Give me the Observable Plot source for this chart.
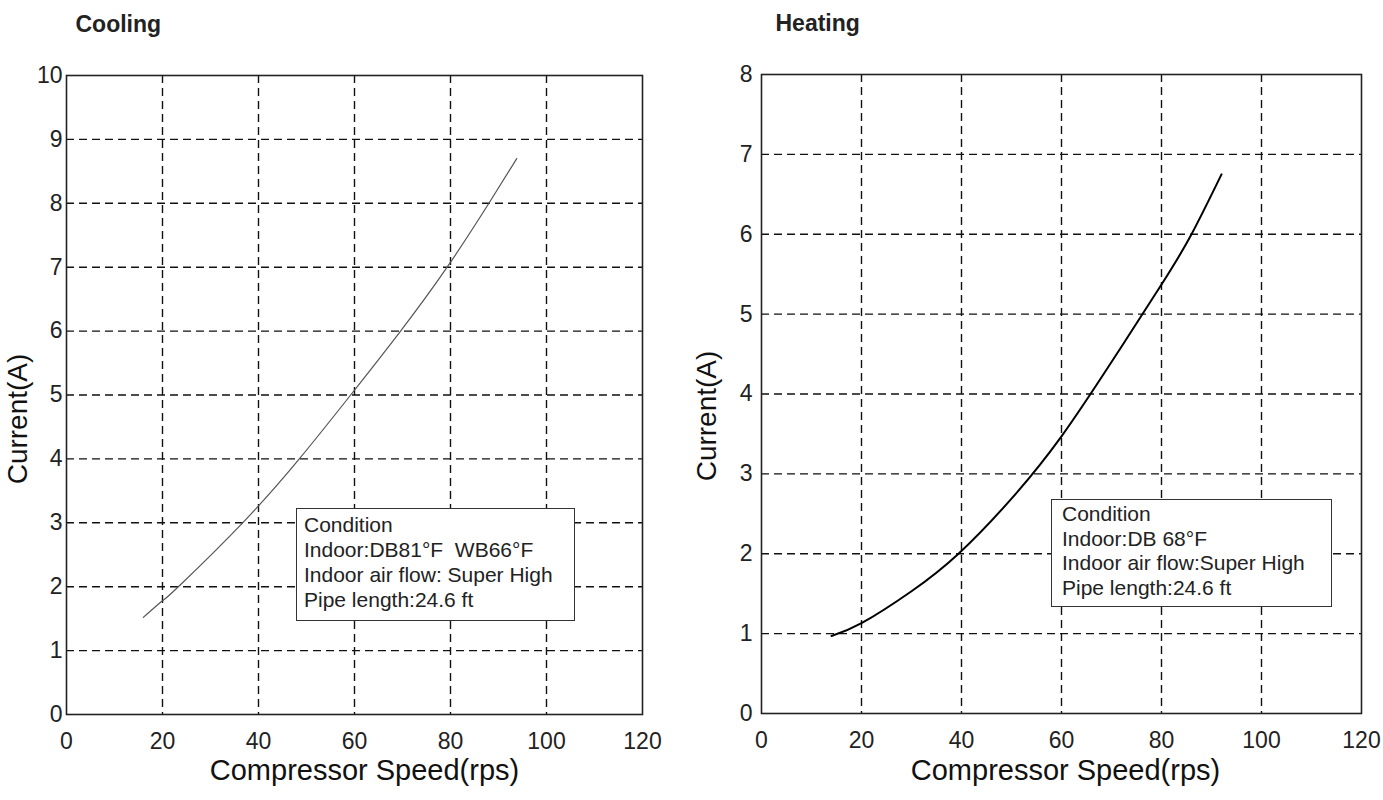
<!DOCTYPE html>
<html>
<head>
<meta charset="utf-8">
<script src="https://cdn.jsdelivr.net/npm/d3@7"></script>
<script src="https://cdn.jsdelivr.net/npm/@observablehq/plot@0.6"></script>
<style>
  html, body { margin: 0; padding: 0; background: #fff; }
  #wrap { position: relative; width: 1383px; height: 800px; overflow: hidden; font-family: "Liberation Sans", Arial, sans-serif; }
  .panel { position: absolute; top: 0; }
  .legend { position: absolute; box-sizing: border-box; border: 1.5px solid #333; background: #fff; font-size: 21px; color: #222; white-space: pre; }
</style>
</head>
<body>
<div id="wrap"></div>
<script>
// ---- data ----
const xTicks = [0, 20, 40, 60, 80, 100, 120];
const xGrid = [20, 40, 60, 80, 100];
const coolingYTicks = [0, 1, 2, 3, 4, 5, 6, 7, 8, 9, 10];
const coolingYGrid = [1, 2, 3, 4, 5, 6, 7, 8, 9];
const heatingYTicks = [0, 1, 2, 3, 4, 5, 6, 7, 8];
const heatingYGrid = [1, 2, 3, 4, 5, 6, 7];

const coolingSpeed   = [16, 20, 23.3, 36.7, 48.5, 59.2, 69.6, 79.3, 88, 93.8];
const coolingCurrent = [1.52, 1.78, 2.0, 3.0, 4.0, 5.0, 6.0, 7.0, 8.0, 8.7];

const heatingSpeed   = [14, 20, 30, 39.4, 50, 60, 70, 80, 86, 92];
const heatingCurrent = [0.97, 1.13, 1.53, 2.0, 2.69, 3.47, 4.4, 5.37, 6.0, 6.75];

const coolingLegend = ["Condition", "Indoor:DB81°F  WB66°F", "Indoor air flow: Super High", "Pipe length:24.6 ft"];
const heatingLegend = ["Condition", "Indoor:DB 68°F", "Indoor air flow:Super High", "Pipe length:24.6 ft"];

const xLabel = "Compressor Speed(rps)";
const yLabel = "Current(A)";

// ---- drawing ----
function panel(cfg) {
  const rows = cfg.xs.map((x, i) => ({x, y: cfg.ys[i]}));
  return Plot.plot({
    width: cfg.width,
    height: 800,
    marginLeft: cfg.ml, marginRight: cfg.mr, marginTop: cfg.mt, marginBottom: cfg.mb,
    style: {fontFamily: '"Liberation Sans", Arial, sans-serif', fontSize: "23px", background: "white", color: "#222"},
    x: {domain: [0, 120]},
    y: {domain: cfg.yDomain},
    marks: [
      Plot.gridX(xGrid, {stroke: "#111", strokeOpacity: 1, strokeWidth: 1.4, strokeDasharray: "8,5"}),
      Plot.gridY(cfg.yGrid, {stroke: "#111", strokeOpacity: 1, strokeWidth: 1.4, strokeDasharray: "8,5"}),
      Plot.axisX(xTicks, {tickSize: 0, tickPadding: 18, fontSize: 23, tickFormat: d3.format("d"), label: null}),
      Plot.axisY(cfg.yTicks, {tickSize: 0, tickPadding: cfg.ypad, fontSize: 23, tickFormat: d3.format("d"), label: null}),
      Plot.frame({stroke: "#222", strokeWidth: 1.6}),
      Plot.line(rows, {x: "x", y: "y", curve: "natural", stroke: cfg.lineColor, strokeWidth: cfg.lineWidth}),
      Plot.text([cfg.title], {frameAnchor: "top-left", textAnchor: "start", dx: cfg.titleDx, dy: -60, fontSize: 23, fontWeight: "bold", fill: "#222"}),
      Plot.text([xLabel], {frameAnchor: "bottom", textAnchor: "middle", dy: cfg.xlDy, dx: cfg.xlDx, fontSize: 29, fill: "#111"}),
      Plot.text([yLabel], {frameAnchor: "left", textAnchor: "middle", rotate: -90, dx: cfg.ylDx, dy: cfg.ylDy, fontSize: 28, fill: "#111"})
    ]
  });
}

const wrap = document.getElementById("wrap");

const left = panel({
  width: 690, ml: 66, mr: 48, mt: 75, mb: 86,
  xs: coolingSpeed, ys: coolingCurrent, yDomain: [0, 10],
  yTicks: coolingYTicks, yGrid: coolingYGrid, ypad: 4,
  lineColor: "#555", lineWidth: 1.2,
  title: "Cooling", titleDx: 9, xlDx: 10, xlDy: 65, ylDx: -48, ylDy: 24
});
left.classList.add("panel");
left.style.left = "0px";
wrap.appendChild(left);

const right = panel({
  width: 693, ml: 71, mr: 22, mt: 74, mb: 87,
  xs: heatingSpeed, ys: heatingCurrent, yDomain: [0, 8],
  yTicks: heatingYTicks, yGrid: heatingYGrid, ypad: 9,
  lineColor: "#000", lineWidth: 2,
  title: "Heating", titleDx: 14, xlDx: 4, xlDy: 66, ylDx: -54, ylDy: 22
});
right.classList.add("panel");
right.style.left = "690px";
wrap.appendChild(right);

function legend(lines, box) {
  const d = document.createElement("div");
  d.className = "legend";
  Object.assign(d.style, {
    left: box.left + "px", top: box.top + "px", width: box.width + "px", height: box.height + "px",
    paddingLeft: box.pl + "px", paddingTop: box.pt + "px", lineHeight: box.lh + "px"
  });
  lines.forEach(t => { const s = document.createElement("div"); s.textContent = t; d.appendChild(s); });
  wrap.appendChild(d);
}
legend(coolingLegend, {left: 296, top: 508, width: 279, height: 113, pl: 7, pt: 3, lh: 25});
legend(heatingLegend, {left: 1051, top: 499, width: 281, height: 108, pl: 10, pt: 2, lh: 24.6});
</script>
</body>
</html>
